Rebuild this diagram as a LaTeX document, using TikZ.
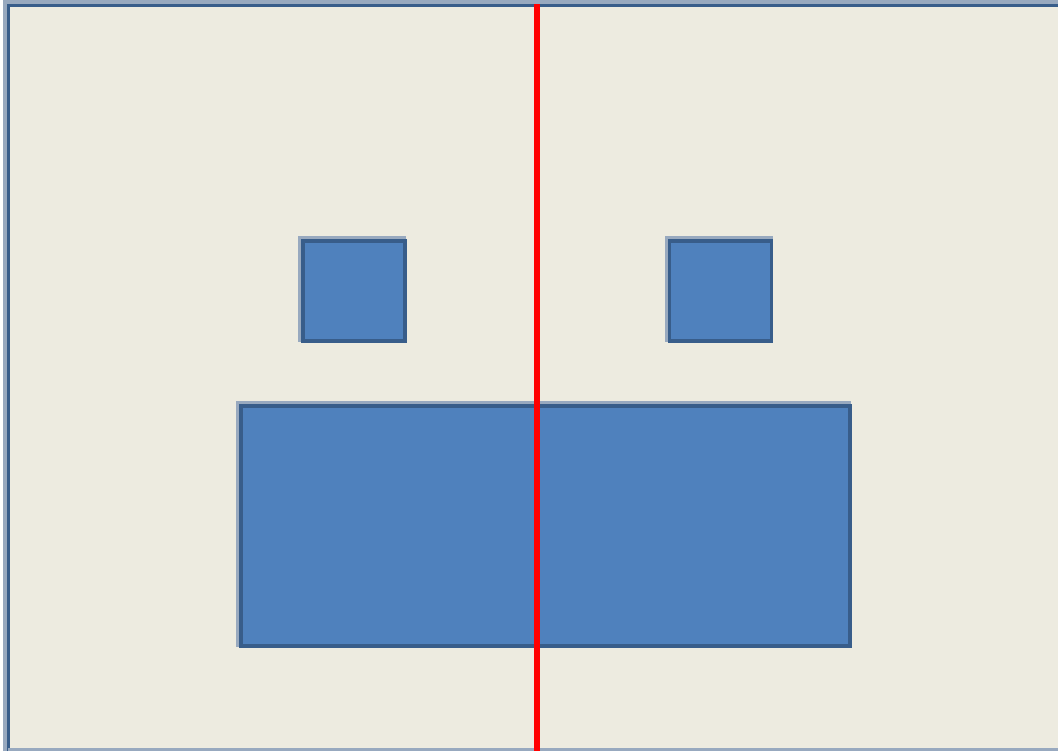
\documentclass[tikz,border=0pt]{standalone}
\usetikzlibrary{positioning}

\definecolor{paper}{HTML}{EDEBE0}
\definecolor{boxfill}{HTML}{4F81BD}
\definecolor{boxline}{HTML}{385D8A}
\definecolor{haze}{HTML}{98A9BF}

\tikzset{
  block/.style={draw=boxline, fill=boxfill, line width=1.1pt, inner sep=0pt,
    preaction={draw=haze, line width=1.6pt, transform canvas={xshift=-0.5pt, yshift=0.5pt}}},
  cutline/.style={draw=red, line width=1.7pt}
}

\begin{document}
\begin{tikzpicture}[x=0.01cm, y=-0.01cm]
    % page size
    \useasboundingbox (0,0) rectangle (1058,751);

    % background sheet
    \fill[paper] (8,5) rectangle (1058,751);
    \draw[haze, line width=1pt] (5,751) -- (5,2) -- (1058,2);
    \draw[boxline, line width=0.9pt] (8.5,751) -- (8.5,5.5) -- (1058,5.5);
    \draw[haze, line width=1pt] (8,749.5) -- (1058,749.5);

    % two small squares
    \foreach \name/\cx in {eyeL/354, eyeR/720.5} {
        \node[block, minimum width=1.02cm, minimum height=1.0cm]
          (\name) at (\cx,291) {};
      }

    % big rectangle
    \node[block, minimum width=6.09cm, minimum height=2.4cm] (base) at (545.5,526) {};

    % red dividing line
    \coordinate (topcut) at (537,4);
    \coordinate (botcut) at (537,751);
    \draw[cutline] (topcut) -- (botcut);
  \end{tikzpicture}
\end{document}
